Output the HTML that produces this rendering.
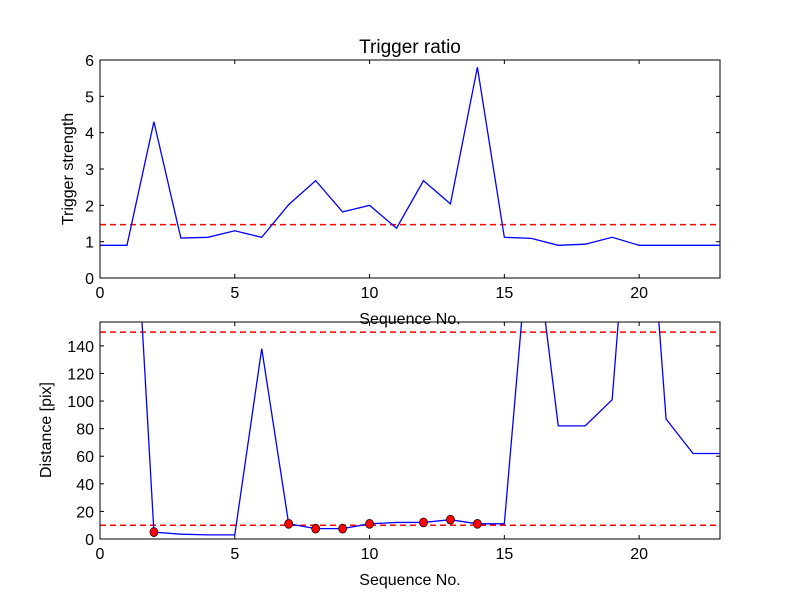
<!DOCTYPE html>
<html><head><meta charset="utf-8"><style>
body{margin:0;background:#fff}
svg text{font-family:"Liberation Sans","DejaVu Sans",sans-serif;fill:#000}
</style></head><body>
<svg id="c" width="800" height="600" xmlns="http://www.w3.org/2000/svg">
<rect width="800" height="600" fill="#fff"/>
<defs>
<clipPath id="clipTop"><rect x="100" y="60" width="620" height="218"/></clipPath>
<clipPath id="clipBot"><rect x="100" y="322" width="620" height="217"/></clipPath>
</defs>
</svg>
<script>
const seq = [0,1,2,3,4,5,6,7,8,9,10,11,12,13,14,15,16,17,18,19,20,21,22,23];
const strength = [0.9,0.9,4.3,1.1,1.12,1.3,1.12,2.02,2.68,1.82,2.0,1.37,2.68,2.04,5.8,1.12,1.09,0.9,0.93,1.12,0.9,0.9,0.9,0.9];
const strengthThreshold = 1.47;
const distance = [350,350,5,3.5,3,3,138,11,7.5,7.5,11,12,12,14,11,11,240,82,82,101,350,87,62,62];
const markedIdx = [2,7,8,9,10,12,13,14];
const distThresholds = [150,10];
const xTicks = [0,5,10,15,20];
const yTicksTop = [0,1,2,3,4,5,6];
const yTicksBot = [0,20,40,60,80,100,120,140];

const svg = document.getElementById('c');
const NS = 'http://www.w3.org/2000/svg';
function mk(tag, attrs, parent){const e=document.createElementNS(NS,tag);for(const k in attrs)e.setAttribute(k,attrs[k]);(parent||svg).appendChild(e);return e;}

function panel(cfg){
  const {L,R,T,B,xmin,xmax,ymin,ymax} = cfg;
  const xs = v => L + (v-xmin)/(xmax-xmin)*(R-L);
  const ys = v => B - (v-ymin)/(ymax-ymin)*(B-T);
  return {xs,ys};
}
function axesFrame(p, cfg, yTicks, prefix){
  const {L,R,T,B} = cfg;
  xTicks.forEach(t=>{
    const x=p.xs(t);
    const a=mk('line',{x1:x,x2:x,y1:B,y2:B-4,stroke:'#000'});
    
    
    mk('line',{x1:x,x2:x,y1:T,y2:T+4,stroke:'#000'});
    const tx=mk('text',{x:x,y:B+20,'text-anchor':'middle','font-size':16});
    tx.textContent=t;
    
    
  });
  yTicks.forEach(t=>{
    const y=p.ys(t);
    mk('line',{x1:L,x2:L+4,y1:y,y2:y,stroke:'#000'});
    mk('line',{x1:R,x2:R-4,y1:y,y2:y,stroke:'#000'});
    const tx=mk('text',{x:L-6,y:y+6,'text-anchor':'end','font-size':16});
    tx.textContent=t;
    
    
  });
  const r=mk('rect',{x:L,y:T,width:R-L,height:B-T,fill:'none',stroke:'#000','stroke-width':1});
  
  
}

// top panel
const cT={L:100,R:720,T:60,B:278,xmin:0,xmax:23,ymin:0,ymax:6};
const pT=panel(cT);
const gT=mk('g',{'clip-path':'url(#clipTop)'});
const th=mk('line',{x1:cT.L,x2:cT.R,y1:pT.ys(strengthThreshold),y2:pT.ys(strengthThreshold),stroke:'#f00','stroke-width':1.5,'stroke-dasharray':'6,4'},gT);


const l1=mk('polyline',{points:seq.map((s,i)=>pT.xs(s)+','+pT.ys(strength[i])).join(' '),fill:'none',stroke:'#00f','stroke-width':1.3},gT);


axesFrame(pT,cT,yTicksTop,'top');
let t=mk('text',{x:410,y:53,'text-anchor':'middle','font-size':19});t.textContent='Trigger ratio';

t=mk('text',{x:410,y:324,'text-anchor':'middle','font-size':16});t.textContent='Sequence No.';

t=mk('text',{x:73,y:169,'text-anchor':'middle','font-size':16,transform:'rotate(-90 73 169)'});t.textContent='Trigger strength';


// bottom panel
const cB={L:100,R:720,T:322,B:539,xmin:0,xmax:23,ymin:0,ymax:157.3};
const pB=panel(cB);
const gB=mk('g',{'clip-path':'url(#clipBot)'});
distThresholds.forEach(v=>{
  const l=mk('line',{x1:cB.L,x2:cB.R,y1:pB.ys(v),y2:pB.ys(v),stroke:'#f00','stroke-width':1.5,'stroke-dasharray':'6,4'},gB);
  
  
});
const l2=mk('polyline',{points:seq.map((s,i)=>pB.xs(s)+','+pB.ys(distance[i])).join(' '),fill:'none',stroke:'#00f','stroke-width':1.3},gB);


markedIdx.forEach(i=>{
  const c=mk('ellipse',{cx:pB.xs(seq[i]),cy:pB.ys(distance[i]),rx:4,ry:4.5,fill:'#f00',stroke:'#000','stroke-width':0.7},gB);
  
  
});
axesFrame(pB,cB,yTicksBot,'bottom');
t=mk('text',{x:410,y:585,'text-anchor':'middle','font-size':16});t.textContent='Sequence No.';

t=mk('text',{x:51,y:430,'text-anchor':'middle','font-size':16,transform:'rotate(-90 51 430)'});t.textContent='Distance [pix]';

</script>
</body></html>
